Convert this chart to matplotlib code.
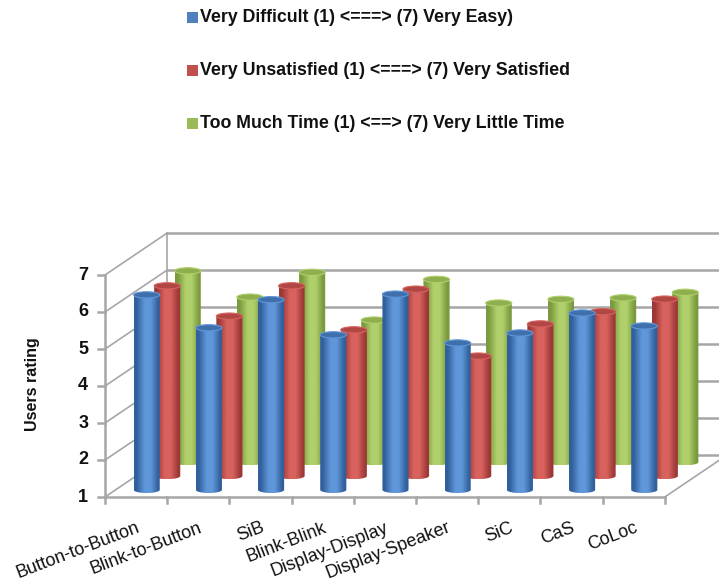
import numpy as np
import matplotlib
matplotlib.use("Agg")
import matplotlib.pyplot as plt
from matplotlib.patches import Polygon, Ellipse, Rectangle
from matplotlib.colors import LinearSegmentedColormap

plt.rcParams['font.family'] = ['Liberation Sans', 'DejaVu Sans']

categories = ["Button-to-Button", "Blink-to-Button", "SiB", "Blink-Blink",
              "Display-Display", "Display-Speaker", "SiC", "CaS", "CoLoc"]
series_names = ["Very Difficult (1) <===> (7) Very Easy)",
                "Very Unsatisfied (1) <===> (7) Very Satisfied",
                "Too Much Time (1) <==> (7) Very Little Time"]
difficulty = [6.27, 5.38, 6.14, 5.19, 6.29, 4.97, 5.24, 5.78, 5.43]
satisfaction = [6.14, 5.32, 6.14, 4.95, 6.05, 4.24, 5.11, 5.44, 5.78]
time_spent = [6.17, 5.46, 6.13, 4.84, 5.94, 5.30, 5.40, 5.44, 5.59]
y_ticks = [1, 2, 3, 4, 5, 6, 7]

# series styling: (dark edge, highlight, cap colour, legend colour)
styles = [
    ("#31609c", "#6097da", "#4070ab", "#4f81bd"),
    ("#9c3836", "#d8625e", "#b04744", "#c0504d"),
    ("#7a9a3e", "#b0d06c", "#8fae4e", "#9bbb59"),
]
depths = [0.17, 0.50, 0.83]      # position of each series row along the depth axis
DX, DY = 1.0, 42 / 37            # oblique projection of full depth (x units, value units)
bar_w = 0.42
cap_h = 0.17
vmin, vmax = 1, 7
n = len(categories)

fig = plt.figure(figsize=(7.19, 5.88), dpi=100)
ax = fig.add_axes([0, 0, 1, 1])
ax.axis('off')

grid_c = "#a6a6a6"
# side wall gridlines and back wall gridlines
for v in y_ticks:
    ax.plot([0, DX], [v, v + DY], color=grid_c, lw=1.2, zorder=1, solid_capstyle='butt')
    ax.plot([DX, n + DX + 1], [v + DY, v + DY], color=grid_c, lw=1.8, zorder=1)
ax.plot([DX, DX], [vmin + DY, vmax + DY], color=grid_c, lw=1.2, zorder=1)
# floor edges
ax.plot([0, n], [vmin, vmin], color=grid_c, lw=1.8, zorder=1)
ax.plot([n, n + DX], [vmin, vmin + DY], color=grid_c, lw=1.2, zorder=1)
# value axis line and ticks
ax.plot([0, 0], [vmin, vmax], color=grid_c, lw=1.8, zorder=1)
for v in y_ticks:
    ax.plot([-0.11, 0], [v, v], color=grid_c, lw=1.8, zorder=1)
    ax.text(-0.27, v, str(v), ha='right', va='center', fontsize=13,
            fontweight='bold', color='#111111')
for i in range(n + 1):
    ax.plot([i, i], [vmin, vmin - 0.16], color=grid_c, lw=1.8, zorder=1)

ax.text(-1.17, 4.05, "Users rating", rotation=90, ha='center', va='center',
        fontsize=11.5, fontweight='bold', color='#111111')

for i, name in enumerate(categories):
    ax.text(i + 0.5, 0.40, name, rotation=21, rotation_mode='anchor',
            ha='right', va='top', fontsize=13, color='#111111')


def cylinder(xc, yb, yt, style, z):
    dark, light, capc, _ = style
    cmap = LinearSegmentedColormap.from_list(
        "cyl", [(0, dark), (0.1, dark), (0.4, light), (0.62, light), (0.9, dark), (1, dark)])
    theta = np.linspace(np.pi, 2 * np.pi, 40)
    bx = xc + bar_w / 2 * np.cos(theta)
    by = yb + cap_h / 2 * np.sin(theta)
    verts = list(zip(bx, by)) + [(xc + bar_w / 2, yt), (xc - bar_w / 2, yt)]
    body = Polygon(verts, closed=True, facecolor='none', edgecolor='none', zorder=z)
    ax.add_patch(body)
    grad = np.linspace(0, 1, 256).reshape(1, -1)
    im = ax.imshow(grad, cmap=cmap, extent=[xc - bar_w / 2, xc + bar_w / 2, yb - cap_h / 2, yt],
                   aspect='auto', origin='lower', zorder=z, interpolation='bilinear')
    im.set_clip_path(body)
    cap = Ellipse((xc, yt), bar_w, cap_h, facecolor=capc, edgecolor=light, lw=0.8, zorder=z + 0.1)
    ax.add_patch(cap)


all_values = [difficulty, satisfaction, time_spent]
# draw back rows first so front rows overlap them
for s in [2, 1, 0]:
    t = depths[s]
    for i, v in enumerate(all_values[s]):
        xc = i + 0.5 + t * DX
        cylinder(xc, vmin + t * DY, v + t * DY, styles[s], z=10 - s * 2 + i * 0.01)

ax.set_xlim(-105 / 62.2, 614 / 62.2)
ax.set_ylim(1 - 91 / 37, 1 + 497 / 37)

# legend
for k, name in enumerate(series_names):
    yc = 1 - (17.5 + 53 * k) / 588
    fig.patches.append(Rectangle((187 / 719, yc - 5.5 / 588), 11 / 719, 11 / 588,
                                 transform=fig.transFigure, facecolor=styles[k][3],
                                 edgecolor='none'))
    fig.text(200 / 719, yc, name, ha='left', va='center', fontsize=12.8,
             fontweight='bold', color='#111111')

fig.savefig("out.png", dpi=100, facecolor='white')
